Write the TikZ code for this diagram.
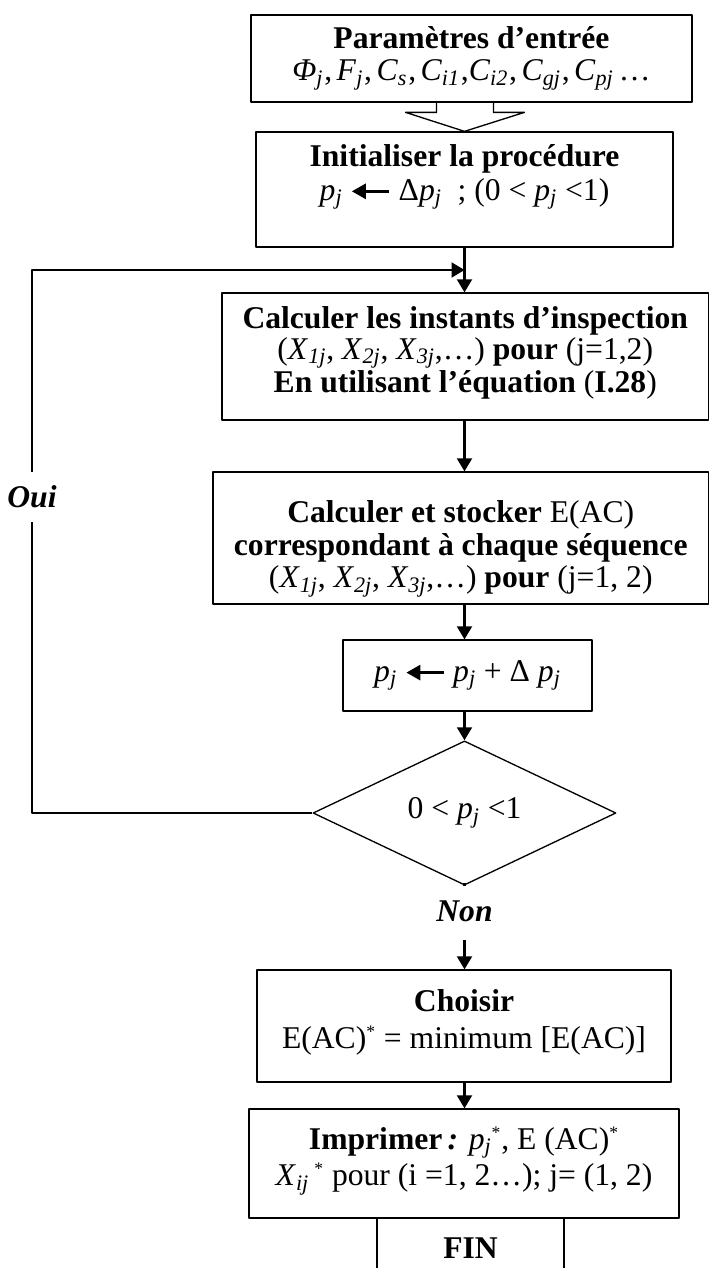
\documentclass[tikz,border=0pt]{standalone}
\usepackage{fontspec}
\setmainfont{Liberation Serif}
\usetikzlibrary{shapes.geometric,arrows.meta,calc}

\lineskiplimit=-20pt
\newcommand{\vsub}[2]{\textit{#1}\textsubscript{\textit{#2}}}
\newcommand{\etoile}{\textsuperscript{\fontsize{10}{10}\selectfont *}}
\newcommand{\virg}{\kern0.5pt,\kern2.5pt}
\newcommand{\affecte}{\tikz[baseline=-0.6ex]\draw[line width=1.6pt,-{Triangle[length=0.28cm,width=0.3cm]}] (0.75,0)--(0,0);}

\begin{document}
\begin{tikzpicture}[line join=round,font=\fontsize{18}{21.6}\selectfont,
		boite/.style={draw,line width=0.75pt,align=flush center,inner sep=0pt},
		interligne/.style={font=\fontsize{18}{#1}\selectfont},
		fleche/.style={line width=1.2pt,-{Triangle[length=0.26cm,width=0.3cm]}},
		trait/.style={line width=1.2pt}]
	\useasboundingbox (0,0) rectangle (14.18,-25.36);
	\coordinate (axe) at (9.29,0);
	
	% les boites
	\node[boite,text width=8.82cm,minimum height=1.74cm,interligne=18.2pt] (param) at (9.43,-1.17)
		{\textbf{Paramètres d’entrée}\\ \vsub{Φ}{j}\virg\vsub{F}{j}\virg\vsub{C}{s}\virg\vsub{C}{i1}\kern0.5pt,\vsub{C}{i2}\virg\vsub{C}{gj}\virg\vsub{C}{pj}\kern3pt…};
	\node[boite,text width=8.34cm,minimum height=2.30cm,interligne=19.3pt] (init) at (9.29,-3.79)
		{\textbf{Initialiser la procédure}\\ \vsub{p}{j} \affecte\ Δ\vsub{p}{j}\ \ ; (0 < \vsub{p}{j} <1)\\[0.5pt]\mbox{}};
	\node[boite,text width=9.73cm,minimum height=2.54cm,interligne=16.2pt] (inst) at (9.305,-7.13)
		{\textbf{Calculer les instants d’inspection}\\ (\vsub{X}{1j}, \vsub{X}{2j}, \vsub{X}{3j},…) \textbf{pour} (j=1,2)\\ \textbf{En utilisant l’équation} (\textbf{I.28})\\[-8.3pt]\mbox{}};
	\node[boite,text width=9.91cm,minimum height=2.64cm,interligne=18.5pt] (stock) at (9.215,-10.76)
		{\mbox{}\\[6.5pt]\textbf{Calculer et stocker} E(AC)\\ \textbf{correspondant à chaque séquence}\\ (\vsub{X}{1j}, \vsub{X}{2j}, \vsub{X}{3j},…) \textbf{pour} (j=1, 2)};
	\node[boite,minimum width=4.98cm,minimum height=1.42cm] (incr) at (9.35,-13.51)
		{\vsub{p}{j} \affecte\ \vsub{p}{j} + Δ \vsub{p}{j}};
	\node[boite,diamond,minimum width=6.06cm,minimum height=2.2cm] (test) at (9.29,-16.26) {0 < \vsub{p}{j} <1};
	\node[inner sep=0pt,minimum height=1.14cm] (non) at (9.29,-18.23) {\textbf{\textit{Non}}};
	\node[boite,text width=8.28cm,minimum height=2.24cm,interligne=21pt] (choix) at (9.28,-20.52)
		{\textbf{Choisir}\\ E(AC)\etoile{} = minimum [E(AC)]\\[-12.6pt]\mbox{}};
	\node[boite,text width=8.60cm,minimum height=2.18cm,interligne=21pt] (imprim) at (9.28,-23.27)
		{\textbf{Imprimer\,\textit{:}} \vsub{p}{j}\etoile, E (AC)\etoile\\ \vsub{X}{ij}\,\etoile{} pour (i =1, 2…); j= (1, 2)\\[-12.7pt]\mbox{}};
	\node[boite,minimum width=3.74cm,minimum height=1.2cm] (fin) at (9.41,-24.96) {\textbf{FIN}};
	\node[inner sep=0pt,minimum height=1.0cm] (oui) at (0.64,-9.94) {\textbf{\textit{Oui}}};
	
	% fleche creuse
	\draw[line width=0.75pt] ($(init.north)+(-0.56,0.60)$) -- ++(0,-0.22) -- ++(-0.62,0) -- (init.north)
		-- ++(1.20,0.38) -- ++(-0.62,0) -- ++(0,0.22);
	
	% liaisons
	\coordinate (jonction) at ($(init.south -| axe)!0.5!(inst.north -| axe)$);
	\draw[fleche] (init.south -| axe) -- (inst.north -| axe);
	\draw[fleche] (inst.south -| axe) -- (stock.north -| axe);
	\draw[fleche] (stock.south -| axe) -- (incr.north -| axe);
	\draw[fleche] (incr.south -| axe) -- (test.north);
	\draw[trait] (test.south) -- (non.north);
	\draw[fleche] (non.south) -- (choix.north -| axe);
	\draw[fleche] (choix.south -| axe) -- (imprim.north -| axe);
	\draw[trait] (test.west) -| (oui.south);
	\draw[fleche] (oui.north) |- (jonction);
\end{tikzpicture}
\end{document}
